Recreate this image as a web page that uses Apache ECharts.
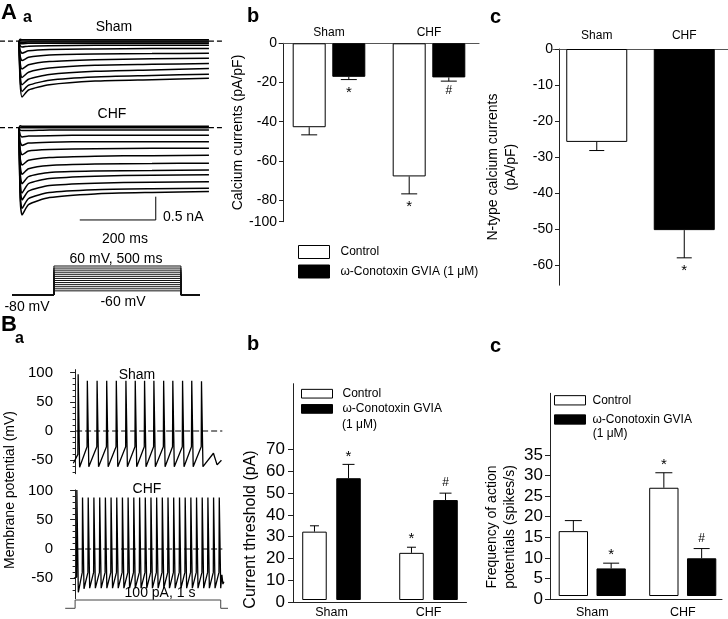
<!DOCTYPE html>
<html><head><meta charset="utf-8"><title>Figure</title>
<script src="https://cdn.jsdelivr.net/npm/echarts@6.0.0/dist/echarts.min.js"></script>
<style>html,body{margin:0;padding:0;background:#fff;}#chart{width:728px;height:619px;}</style>
</head><body><div id="chart"></div>
<script>
// ================= DATA =================
const groups = ['Sham', 'CHF'];
const CONTROL = 'Control';
const CONO = 'ω-Conotoxin GVIA (1 μM)';

// A-a : calcium current sweeps (nA) sampled at traceTimes (ms)
const traceTimes = [0, 3, 8, 25, 80, 200, 350, 500];
const shamSweeps = [
  [0, -0.90, -1.20, -1.05, -0.94, -0.86, -0.83, -0.80],
  [0, -0.80, -1.08, -0.95, -0.84, -0.77, -0.74, -0.71],
  [0, -0.70, -0.94, -0.82, -0.72, -0.65, -0.62, -0.59],
  [0, -0.58, -0.78, -0.67, -0.58, -0.52, -0.50, -0.48],
  [0, -0.45, -0.60, -0.51, -0.44, -0.40, -0.38, -0.37],
  [0, -0.32, -0.42, -0.35, -0.30, -0.28, -0.27, -0.26],
  [0, -0.20, -0.26, -0.21, -0.18, -0.17, -0.16, -0.16],
  [0, -0.10, -0.13, -0.11, -0.10, -0.09, -0.09, -0.09],
  [0, -0.05, -0.06, -0.05, -0.05, -0.05, -0.05, -0.05],
  [0, -0.02, -0.03, -0.02, -0.02, -0.02, -0.02, -0.02],
  [0, 0.01, 0.00, 0.00, 0.00, 0.00, 0.00, 0.00],
  [0, 0.04, 0.03, 0.03, 0.03, 0.03, 0.03, 0.03]
];
const chfSweeps = [
  [0, -1.50, -1.87, -1.65, -1.50, -1.42, -1.39, -1.37],
  [0, -1.40, -1.73, -1.52, -1.39, -1.33, -1.31, -1.30],
  [0, -1.22, -1.55, -1.36, -1.24, -1.19, -1.17, -1.16],
  [0, -1.08, -1.40, -1.20, -1.09, -1.04, -1.02, -1.01],
  [0, -0.95, -1.20, -1.05, -0.96, -0.93, -0.92, -0.91],
  [0, -0.80, -1.00, -0.88, -0.81, -0.78, -0.77, -0.76],
  [0, -0.64, -0.80, -0.70, -0.64, -0.61, -0.60, -0.59],
  [0, -0.46, -0.58, -0.50, -0.47, -0.45, -0.44, -0.44],
  [0, -0.30, -0.38, -0.33, -0.31, -0.30, -0.30, -0.30],
  [0, -0.15, -0.20, -0.18, -0.17, -0.16, -0.16, -0.16],
  [0, -0.05, -0.06, -0.06, -0.05, -0.05, -0.05, -0.05],
  [0, 0.00, 0.00, 0.00, 0.00, 0.00, 0.00, 0.00],
  [0, 0.04, 0.03, 0.03, 0.03, 0.03, 0.03, 0.03]
];
const scaleBarTime = 200;      // ms
const scaleBarCurrent = 0.5;   // nA
// A-a : voltage protocol (mV)
const holdingPotential = -80;
const stepPotentials = [-60, -50, -40, -30, -20, -10, 0, 10, 20, 30, 40, 50, 60];
const stepDuration = 500;      // ms

// A-b : calcium currents (pA/pF)
const caControl = [-42.8, -67.9];
const caControlErr = [-46.7, -76.8];
const caCono = [-17.1, -17.4];
const caConoErr = [-18.5, -19.3];
const caControlMarks = ['', '*'];
const caConoMarks = ['*', '#'];
const caTickValues = [0, -20, -40, -60, -80, -91];
const caTickLabels = ['0', '-20', '-40', '-60', '-80', '-100'];

// A-c : N-type calcium currents (pA/pF)
const nType = [-25.8, -50.3];
const nTypeErr = [-28.2, -58.0];
const nTypeMarks = ['', '*'];
const nTypeTicks = [0, -10, -20, -30, -40, -50, -60];

// B-a : membrane potential (mV), spike times (ms)
const shamSpikeT = [21, 84, 151, 217, 283, 349, 413, 477, 541, 608, 671, 738, 801, 868];
const shamSpikePeak = [97, 86, 86, 86, 86, 86, 86, 86, 86, 86, 86, 86, 86, 85];
const shamSpikeThr = [-40, -27, -27, -27, -27, -27, -27, -27, -27, -27, -27, -27, -27, -27];
const shamSpikeTrough = [-62, -61, -61, -61, -61, -61, -61, -61, -61, -61, -61, -61, -61, -61];
const shamStart = [-12, -55];
const shamTailT = [950, 975, 1005];
const shamTailV = [-38, -58, -50];
const chfSpikeT = [12, 51, 90, 129, 169, 208, 247, 286, 325, 364, 403, 443, 482, 521, 560, 599, 638, 677, 717, 756, 795, 834, 873, 912, 951, 990];
const chfSpikePeak = [101, 88, 88, 88, 88, 88, 88, 88, 88, 88, 88, 88, 88, 88, 88, 88, 88, 88, 88, 88, 88, 88, 88, 88, 88, 88];
const chfSpikeThr = [-48, -40, -40, -40, -40, -40, -40, -40, -40, -40, -40, -40, -40, -40, -40, -40, -40, -40, -40, -40, -40, -40, -40, -40, -40, -40];
const chfSpikeTrough = [-74, -68, -67, -67, -67, -67, -67, -67, -67, -67, -67, -67, -67, -67, -67, -67, -67, -67, -67, -67, -67, -67, -67, -67, -67, -67];
const chfStart = [-8, -50];
const chfTailT = [1008, 1015, 1022];
const chfTailV = [-44, -60, -56];
const stimAmplitude = 100;   // pA
const stimDuration = 1000;   // ms
const baMajorTicks = [-50, 0, 50, 100];
const baMinorTicks = [-70, -60, -40, -30, -20, -10, 10, 20, 30, 40, 60, 70, 80, 90];

// B-b : current threshold (pA)
const thrControl = [31.6, 21.8];
const thrControlErr = [34.3, 24.4];
const thrCono = [56.3, 46.2];
const thrConoErr = [62.7, 49.4];
const thrControlMarks = ['', '*'];
const thrConoMarks = ['*', '#'];
const thrTicks = [0, 10, 20, 30, 40, 50, 60, 70];

// B-c : AP frequency (spikes/s)
const freqControl = [16.0, 26.7];
const freqControlErr = [18.6, 30.4];
const freqCono = [6.8, 9.3];
const freqConoErr = [8.1, 11.7];
const freqControlMarks = ['', '*'];
const freqConoMarks = ['*', '#'];
const freqTicks = [0, 5, 10, 15, 20, 25, 30, 35];

// ================= BUILD =================
const FONT = "'Liberation Sans', Arial, Helvetica, sans-serif";
const AX = '#222';
const grids = [], xAxes = [], yAxes = [], series = [];

function addGrid(rect, xa, ya) {
  const g = grids.length;
  grids.push(Object.assign({}, rect));
  xAxes.push(Object.assign({ gridIndex: g }, xa));
  yAxes.push(Object.assign({ gridIndex: g }, ya));
  return { g: g, x: xAxes.length - 1, y: yAxes.length - 1 };
}
function hidden(min, max) { return { type: 'value', show: false, min: min, max: max }; }
function line(ax, data, opts) {
  series.push(Object.assign({
    type: 'line', xAxisIndex: ax.x, yAxisIndex: ax.y, data: data, symbol: 'none',
    silent: true, clip: false, lineStyle: { color: '#000', width: 1 }
  }, opts || {}));
}
function errSeries(ax, vals, errs, marks, offset, capW, dir) {
  series.push({
    type: 'custom', xAxisIndex: ax.x, yAxisIndex: ax.y, silent: true,
    data: vals.map((v, i) => [i, v, errs[i]]),
    renderItem: function (params, api) {
      const i = api.value(0);
      const p0 = api.coord([i, api.value(1)]);
      const p1 = api.coord([i, api.value(2)]);
      const x = p0[0] + offset;
      const st = { stroke: '#000', lineWidth: 1 };
      const ch = [
        { type: 'line', shape: { x1: x, y1: p0[1], x2: x, y2: p1[1] }, style: st },
        { type: 'line', shape: { x1: x - capW / 2, y1: p1[1], x2: x + capW / 2, y2: p1[1] }, style: st }
      ];
      const m = marks[params.dataIndex];
      if (m) {
        const gap = m === '*' ? (dir > 0 ? 13 : 8) : 10;
        ch.push({ type: 'text', x: x, y: p1[1] + dir * gap,
          style: { text: m, fontSize: m === '*' ? 15 : 12, fontFamily: FONT, fill: '#000', align: 'center', verticalAlign: 'middle' } });
      }
      return { type: 'group', children: ch };
    }
  });
}
const whiteBar = { color: '#fff', borderColor: '#000', borderWidth: 1 };
const blackBar = { color: '#000', borderColor: '#000', borderWidth: 1 };
const traceStyle = { lineStyle: { color: '#000', width: 1.5 }, smooth: 0.2 };
const dashStyle = { lineStyle: { color: '#000', width: 1.2, type: [5, 3] } };

// ---- A-a traces ----
const trX = { min: -50, max: 537 };
const aSham = addGrid({ left: 0, top: 31.7, width: 223, height: 74.6 }, hidden(trX.min, trX.max), hidden(-1.4, 0.2));
shamSweeps.forEach(sw => line(aSham, traceTimes.map((t, i) => [t, sw[i]]), traceStyle));
line(aSham, [[trX.min, 0], [0, 0]], dashStyle);
line(aSham, [[stepDuration, 0], [trX.max, 0]], dashStyle);

const aChf = addGrid({ left: 0, top: 118.4, width: 223, height: 102.5 }, hidden(trX.min, trX.max), hidden(-2.0, 0.2));
chfSweeps.forEach(sw => line(aChf, traceTimes.map((t, i) => [t, sw[i]]), traceStyle));
line(aChf, [[trX.min, 0], [0, 0]], dashStyle);
line(aChf, [[stepDuration, 0], [trX.max, 0]], dashStyle);
// scale bar (placed at t=160 ms, -1.98 nA)
const sb0 = [160, -1.98];
line(aChf, [[sb0[0], sb0[1]], [sb0[0] + scaleBarTime, sb0[1]], [sb0[0] + scaleBarTime, sb0[1] + scaleBarCurrent]], { lineStyle: { color: '#000', width: 1 } });

// ---- A-a protocol ----
const aProt = addGrid({ left: 12, top: 266, width: 188, height: 29 }, hidden(-165, 575), hidden(-80, 60));
stepPotentials.forEach(v => line(aProt, [[-165, holdingPotential], [0, holdingPotential], [0, v], [stepDuration, v], [stepDuration, holdingPotential], [575, holdingPotential]], { lineStyle: { color: '#111', width: 1 } }));

// ---- A-b ----
const ab = addGrid({ left: 279, top: 43.3, width: 200, height: 178.4 },
  { type: 'category', data: groups, position: 'top', axisLine: { lineStyle: { color: '#555', width: 1.2 } }, axisTick: { show: false },
    axisLabel: { fontSize: 12, margin: 5, color: '#000', fontFamily: FONT } },
  { type: 'value', min: -91, max: 0, offset: -4, splitLine: { show: false },
    axisLine: { show: true, lineStyle: { color: AX } },
    axisTick: { show: true, length: 4, customValues: caTickValues, lineStyle: { color: AX } },
    axisLabel: { customValues: caTickValues, formatter: v => caTickLabels[caTickValues.indexOf(v)], fontSize: 14, margin: 6, color: '#000', fontFamily: FONT },
    name: 'Calcium currents (pA/pF)', nameLocation: 'middle', nameGap: 37,
    nameTextStyle: { fontSize: 14, color: '#000', fontFamily: FONT } });
series.push({ type: 'bar', name: CONTROL, xAxisIndex: ab.x, yAxisIndex: ab.y, data: caControl, barWidth: 33, barGap: '20%', itemStyle: whiteBar, silent: true });
series.push({ type: 'bar', name: CONO, xAxisIndex: ab.x, yAxisIndex: ab.y, data: caCono, barWidth: 33, barGap: '20%', itemStyle: blackBar, silent: true });
errSeries(ab, caControl, caControlErr, caControlMarks, -19.8, 16, 1);
errSeries(ab, caCono, caConoErr, caConoMarks, 19.8, 16, 1);

// ---- A-c ----
const ac = addGrid({ left: 553, top: 49, width: 183, height: 236.2 },
  { type: 'category', data: groups, position: 'top', axisLine: { lineStyle: { color: '#555', width: 1.2 } }, axisTick: { show: false },
    axisLabel: { fontSize: 12, margin: 7, color: '#000', fontFamily: FONT } },
  { type: 'value', min: -65.6, max: 0, offset: -6, splitLine: { show: false },
    axisLine: { show: true, lineStyle: { color: AX } },
    axisTick: { show: true, length: 4, customValues: nTypeTicks, lineStyle: { color: AX } },
    axisLabel: { customValues: nTypeTicks, fontSize: 14, margin: 6, color: '#000', fontFamily: FONT },
    name: 'N-type calcium currents\n(pA/pF)', nameLocation: 'middle', nameGap: 39,
    nameTextStyle: { fontSize: 14, lineHeight: 18, color: '#000', fontFamily: FONT } });
series.push({ type: 'bar', name: 'N-type', xAxisIndex: ac.x, yAxisIndex: ac.y, barWidth: 61, silent: true,
  data: nType.map((v, i) => ({ value: v, itemStyle: i === 0 ? whiteBar : blackBar })) });
errSeries(ac, nType, nTypeErr, nTypeMarks, 0, 15, 1);

// ---- B-a ----
function spikeTrace(start, T, P, thr, tr, tailT, tailV) {
  const pts = [start];
  for (let i = 0; i < T.length; i++) { pts.push([T[i] - 2, thr[i]], [T[i], P[i]], [T[i] + 10, tr[i]]); }
  tailT.forEach((t, i) => pts.push([t, tailV[i]]));
  return pts;
}
const baX = { min: -90, max: 1050 };
function baGrid(rect, ymin, ymax) {
  const a = addGrid(rect, hidden(baX.min, baX.max),
    { type: 'value', min: ymin, max: ymax, splitLine: { show: false },
      axisLine: { show: true, lineStyle: { color: AX } },
      axisTick: { show: true, length: 5, customValues: baMajorTicks, lineStyle: { color: AX } },
      axisLabel: { customValues: baMajorTicks, fontSize: 15, margin: 9, color: '#000', fontFamily: FONT } });
  // minor ticks: a twin grid with the same rectangle and scale
  addGrid(Object.assign({}, rect), hidden(baX.min, baX.max),
    { type: 'value', min: ymin, max: ymax, splitLine: { show: false },
      axisLine: { show: false }, axisLabel: { show: false },
      axisTick: { show: true, length: 2.5, customValues: baMinorTicks, lineStyle: { color: AX } } });
  return a;
}
const baSham = baGrid({ left: 62, top: 369.6, width: 166, height: 104.1 }, -73, 105);
line(baSham, [[7, 0], [1011, 0]], { lineStyle: { color: '#000', width: 1.2, type: [6, 3] } });
line(baSham, spikeTrace(shamStart, shamSpikeT, shamSpikePeak, shamSpikeThr, shamSpikeTrough, shamTailT, shamTailV), { lineStyle: { color: '#000', width: 1.3 } });
const baChf = baGrid({ left: 62, top: 489.9, width: 166, height: 108.8 }, -85, 101);
line(baChf, [[7, 0], [1011, 0]], { lineStyle: { color: '#000', width: 1.2, type: [6, 3] } });
line(baChf, spikeTrace(chfStart, chfSpikeT, chfSpikePeak, chfSpikeThr, chfSpikeTrough, chfTailT, chfTailV), { lineStyle: { color: '#000', width: 1.3 } });
const baStim = addGrid({ left: 62, top: 600, width: 166, height: 8.3 }, hidden(baX.min, baX.max), hidden(0, stimAmplitude));
line(baStim, [[-68, 0], [0, 0], [0, stimAmplitude], [stimDuration, stimAmplitude], [stimDuration, 0], [1050, 0]], { lineStyle: { color: '#444', width: 1 } });
addGrid({ left: 62, top: 375, height: 230, width: 10 }, hidden(0, 1),
  { type: 'value', min: 0, max: 1, axisLine: { show: false }, axisTick: { show: false }, axisLabel: { show: false }, splitLine: { show: false },
    name: 'Membrane potential (mV)', nameLocation: 'middle', nameGap: 45, nameTextStyle: { fontSize: 14, color: '#000', fontFamily: FONT } });

// ---- B-b / B-c (data grid + frame grid + name grid) ----
function barPanel(dataRect, frameRect, nameRect, ymax, ticks, name, nameGap, nameSize, lblMargin, xMargin, bw, gap, caps, vals) {
  const d = addGrid(dataRect,
    { type: 'category', data: groups, axisLine: { show: false }, axisTick: { show: false },
      axisLabel: { fontSize: 12.5, margin: xMargin, color: '#000', fontFamily: FONT } },
    hidden(0, ymax));
  addGrid(frameRect,
    { type: 'value', min: 0, max: 1, axisLine: { show: true, lineStyle: { color: AX } }, axisTick: { show: false }, axisLabel: { show: false }, splitLine: { show: false } },
    { type: 'value', min: 0, max: ymax, splitLine: { show: false }, axisLine: { show: true, lineStyle: { color: AX } },
      axisTick: { show: true, length: 5, customValues: ticks, lineStyle: { color: AX } },
      axisLabel: { customValues: ticks, fontSize: 17, margin: lblMargin, color: '#000', fontFamily: FONT } });
  addGrid(nameRect, hidden(0, 1),
    { type: 'value', min: 0, max: 1, axisLine: { show: false }, axisTick: { show: false }, axisLabel: { show: false }, splitLine: { show: false },
      name: name, nameLocation: 'middle', nameGap: nameGap, nameTextStyle: { fontSize: nameSize, lineHeight: 18, color: '#000', fontFamily: FONT } });
  const off = (bw * (1 + gap / 100)) / 2;
  series.push({ type: 'bar', name: CONTROL, xAxisIndex: d.x, yAxisIndex: d.y, data: vals[0], barWidth: bw, barGap: gap + '%', itemStyle: whiteBar, silent: true });
  series.push({ type: 'bar', name: CONO, xAxisIndex: d.x, yAxisIndex: d.y, data: vals[3], barWidth: bw, barGap: gap + '%', itemStyle: blackBar, silent: true });
  errSeries(d, vals[0], vals[1], vals[2], -off, caps[0], -1);
  errSeries(d, vals[3], vals[4], vals[5], off, caps[1], -1);
}
barPanel({ left: 283, top: 383.7, width: 194, height: 218.6 }, { left: 293, top: 383.7, width: 173.5, height: 218.6 },
  { left: 293, top: 457, width: 10, height: 145 }, 100, thrTicks, 'Current threshold (pA)', 33, 16, 8, 6, 24.5, 39, [9, 12],
  [thrControl, thrControlErr, thrControlMarks, thrCono, thrConoErr, thrConoMarks]);
barPanel({ left: 547, top: 393.3, width: 181, height: 205.7 }, { left: 550, top: 393.3, width: 172, height: 205.7 },
  { left: 550, top: 455, width: 10, height: 144 }, 50, freqTicks, 'Frequency of action\npotentials (spikes/s)', 31, 14, 7, 10, 29.3, 29, [17, 16],
  [freqControl, freqControlErr, freqControlMarks, freqCono, freqConoErr, freqConoMarks]);

// ---- legends ----
const legendData = [{ name: CONTROL, itemStyle: whiteBar }, { name: CONO, itemStyle: blackBar }];
const shortName = n => n.split(' (')[0];
const legends = [
  { left: 298, top: 245, orient: 'vertical', itemWidth: 31, itemHeight: 13, itemGap: 5.5, icon: 'rect', selectedMode: false, padding: 0,
    textStyle: { fontSize: 12, lineHeight: 13, color: '#000', fontFamily: FONT, padding: [0, 0, 0, 6] }, data: legendData },
  { left: 301, top: 386.7, orient: 'vertical', itemWidth: 31, itemHeight: 8.7, itemGap: 1.2, icon: 'rect', selectedMode: false, padding: 0,
    formatter: shortName, textStyle: { fontSize: 12, lineHeight: 14, color: '#000', fontFamily: FONT, padding: [0, 0, 0, 5] }, data: legendData },
  { left: 554, top: 393.3, orient: 'vertical', itemWidth: 31, itemHeight: 9.3, itemGap: 5.2, icon: 'rect', selectedMode: false, padding: 0,
    formatter: shortName, textStyle: { fontSize: 12, lineHeight: 14, color: '#000', fontFamily: FONT, padding: [0, 0, 0, 2] }, data: legendData }
];

// ---- text annotations ----
const conc = '(' + CONO.split(' (')[1];
const texts = [
  { t: 'A', x: 1, y: 13, s: 22, b: true, a: 'left' },
  { t: 'a', x: 23, y: 17.5, s: 16, b: true, a: 'left' },
  { t: 'Sham', x: 114, y: 27, s: 14 },
  { t: 'CHF', x: 112, y: 114.5, s: 14 },
  { t: '0.5 nA', x: 163, y: 217, s: 14, a: 'left' },
  { t: '200 ms', x: 125, y: 239, s: 14 },
  { t: '60 mV, 500 ms', x: 116, y: 259, s: 14 },
  { t: '-80 mV', x: 27, y: 307, s: 14 },
  { t: '-60 mV', x: 123, y: 302, s: 14 },
  { t: 'b', x: 247, y: 16, s: 20, b: true, a: 'left' },
  { t: 'c', x: 490, y: 17, s: 20, b: true, a: 'left' },
  { t: 'B', x: 1, y: 325, s: 22, b: true, a: 'left' },
  { t: 'a', x: 15, y: 339, s: 16, b: true, a: 'left' },
  { t: 'Sham', x: 137, y: 375, s: 14 },
  { t: 'CHF', x: 147, y: 489, s: 14 },
  { t: '100 pA, 1 s', x: 160, y: 593, s: 14 },
  { t: 'b', x: 247, y: 344, s: 20, b: true, a: 'left' },
  { t: 'c', x: 490, y: 346, s: 20, b: true, a: 'left' },
  { t: conc, x: 342, y: 425, s: 12, a: 'left' },
  { t: conc, x: 592.7, y: 433.3, s: 12, a: 'left' }
];
const graphic = texts.map(o => ({ type: 'text', x: o.x, y: o.y, silent: true,
  style: { text: o.t, fontSize: o.s, fontWeight: o.b ? 'bold' : 'normal', fontFamily: FONT, fill: '#000', align: o.a || 'center', verticalAlign: 'middle' } }));

const chart = echarts.init(document.getElementById('chart'), null, { renderer: 'canvas', width: 728, height: 619 });
chart.setOption({
  animation: false, backgroundColor: '#fff',
  textStyle: { fontFamily: FONT },
  grid: grids, xAxis: xAxes, yAxis: yAxes, series: series, legend: legends, graphic: graphic
});
</script></body></html>
